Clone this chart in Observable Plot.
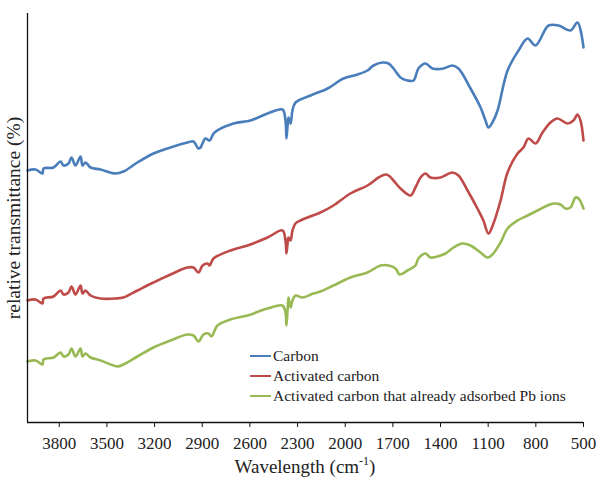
<!DOCTYPE html>
<html>
<head>
<meta charset="utf-8">
<script src="https://cdn.jsdelivr.net/npm/d3@7"></script>
<script src="https://cdn.jsdelivr.net/npm/@observablehq/plot@0.6"></script>
<style>
  body { margin: 0; background: #fff; }
  #chart { position: relative; width: 600px; height: 477px; font-family: "Liberation Serif", serif; color: #222; }
  #chart svg { display: block; }
  .ylab { position: absolute; left: 14px; top: 218px; transform: translate(-50%, -50%) rotate(-90deg); white-space: nowrap; font-size: 19.5px; }
  .xlab { position: absolute; left: 305px; top: 466px; transform: translate(-50%, -50%); white-space: nowrap; font-size: 19px; }
  .legend { position: absolute; left: 250px; top: 346px; font-size: 15.5px; }
  .legend .row { display: flex; align-items: center; height: 20px; }
  .legend .sw { width: 21px; height: 2.5px; margin-right: 2px; }
</style>
</head>
<body>
<div id="chart"></div>
<script>
// FTIR spectra: [wavenumber (cm-1), relative transmittance]
const carbon = [
  [4000,63],[3950,63.25],[3906,62.25],[3899,63.5],[3836,63.75],[3792,65.25],[3773,64.25],
  [3742,64.75],[3723,66.25],[3698,64.25],[3666,66.5],[3654,64.25],[3635,65],[3603,63.75],
  [3540,63.25],[3446,62.25],[3396,62.75],[3308,65],[3207,67.25],[3100,68.75],[2993,70],
  [2955,70.25],[2924,68.5],[2911,68.75],[2880,71],[2854,70.5],[2823,72.5],[2703,74.75],
  [2596,75.5],[2489,77.25],[2395,78.25],[2376,75.5],[2370,71],[2363,74.25],[2357,76.25],
  [2344,74.75],[2332,78],[2313,80],[2218,81.75],[2111,83.5],[2011,86],[1923,87],[1860,88],
  [1822,89.25],[1765,90],[1727,89.75],[1696,88.5],[1652,86.25],[1608,85.5],[1570,85.5],
  [1539,88.5],[1495,89.75],[1450,88.5],[1381,88.5],[1325,89.25],[1287,88.5],[1211,83.5],
  [1148,78.75],[1117,75.5],[1098,73.75],[1067,75.5],[1041,78],[978,88],[909,93],[852,96],
  [802,94.25],[720,99.25],[657,99.25],[582,98],[538,100],[500,93.75]
];

const activated = [
  [4000,30.5],[3950,30.75],[3906,29.75],[3899,31],[3836,31.5],[3792,33],[3773,32],
  [3742,32.5],[3723,34],[3698,32],[3666,34.25],[3654,32.25],[3635,33],[3603,31.75],
  [3540,31],[3446,31],[3396,31.25],[3308,33],[3207,35],[3100,37],[2993,38.75],
  [2955,38.75],[2924,37.5],[2898,39.25],[2867,39.75],[2854,39.25],[2829,41],[2722,43],
  [2615,44.25],[2489,46.25],[2395,48],[2376,45.5],[2370,42.25],[2363,44.75],[2357,46.25],
  [2344,45.5],[2332,48],[2313,49.75],[2282,50.5],[2237,51.25],[2156,52.5],[2074,54.25],
  [1967,57.25],[1860,59.25],[1790,61.25],[1746,62],[1727,61.75],[1696,60.5],[1652,58.5],
  [1589,56.75],[1558,58.75],[1526,61.25],[1495,62.25],[1463,61.25],[1400,61.25],
  [1325,62.5],[1287,61.75],[1230,58],[1161,53],[1130,50.5],[1098,47.25],[1067,49.75],
  [1022,55.5],[978,62.5],[915,67.25],[878,68.75],[846,71],[802,69.75],[758,72.5],
  [708,75],[664,76],[601,74.75],[563,75.5],[538,77],[519,75.5],[500,70.5]
];

const leaded = [
  [4000,15.25],[3950,15.5],[3906,14.5],[3899,15.75],[3836,16.25],[3792,17.5],[3773,16.5],
  [3742,17],[3723,18.5],[3698,16.5],[3666,18.5],[3654,16.5],[3635,17.25],[3603,16.25],
  [3540,15.5],[3433,14],[3396,14.5],[3308,16.5],[3207,18.75],[3100,20.5],[2993,22],
  [2955,21.75],[2924,20.25],[2892,22],[2861,22.25],[2842,21.5],[2804,24.25],[2722,25.75],
  [2615,26.75],[2489,28.5],[2395,29.25],[2376,27.5],[2370,24.25],[2363,28],[2357,31.25],
  [2344,28.75],[2332,30.5],[2313,31.75],[2269,31.25],[2200,32.25],[2156,32.75],[2074,34.25],
  [1967,36.25],[1860,37.5],[1778,39.25],[1727,39.25],[1683,38.5],[1658,37],[1608,38],
  [1558,39.25],[1539,41],[1495,42.25],[1463,41.25],[1400,41.75],[1369,42.25],[1318,43.75],
  [1262,44.75],[1211,44.25],[1148,42.5],[1104,41.25],[1073,42],[1022,45],[978,48.5],
  [915,50.5],[852,51.75],[790,53],[727,54.25],[689,54.75],[645,54.5],[613,53.5],
  [582,53.75],[550,56.25],[531,56],[500,53.5]
];

const seriesNames = ["Carbon", "Activated carbon", "Activated carbon that already adsorbed Pb ions"];
const seriesColors = ["#4a7ebb", "#be4b48", "#98b954"];
const xTicks = [3800, 3500, 3200, 2900, 2600, 2300, 2000, 1700, 1400, 1100, 800, 500];

const rows = [carbon, activated, leaded].flatMap((s, i) =>
  s.map(([w, t]) => ({wave: w, trans: t, series: seriesNames[i]})));

const plot = Plot.plot({
  width: 600,
  height: 477,
  marginTop: 13,
  marginBottom: 55,
  marginLeft: 27,
  marginRight: 17,
  style: {fontFamily: '"Liberation Serif", serif', fontSize: "17px", color: "#222", background: "#fff"},
  x: {domain: [4000, 500]},
  y: {domain: [0, 102.25], axis: null},
  color: {domain: seriesNames, range: seriesColors},
  marks: [
    Plot.line(rows, {x: "wave", y: "trans", z: "series", stroke: "series", strokeWidth: 2.6, curve: "catmull-rom", strokeLinejoin: "round"}),
    Plot.ruleY([0], {stroke: "#111", strokeWidth: 1.3}),
    Plot.ruleX([4000], {stroke: "#111", strokeWidth: 1.3}),
    Plot.axisX({ticks: xTicks, tickFormat: d3.format("d"), tickSize: 5, tickPadding: 9, label: null, stroke: "#111", fontSize: 17})
  ]
});

const root = document.getElementById("chart");
root.appendChild(plot);

const ylab = document.createElement("div");
ylab.className = "ylab";
ylab.textContent = "relative transmittance (%)";
root.appendChild(ylab);

const xlab = document.createElement("div");
xlab.className = "xlab";
xlab.innerHTML = "Wavelength (cm<sup style=\"font-size:12px\">-1</sup>)";
root.appendChild(xlab);

const legend = document.createElement("div");
legend.className = "legend";
seriesNames.forEach((name, i) => {
  const row = document.createElement("div");
  row.className = "row";
  const sw = document.createElement("span");
  sw.className = "sw";
  sw.style.background = seriesColors[i];
  const label = document.createElement("span");
  label.textContent = name;
  row.appendChild(sw);
  row.appendChild(label);
  legend.appendChild(row);
});
root.appendChild(legend);
</script>
</body>
</html>
